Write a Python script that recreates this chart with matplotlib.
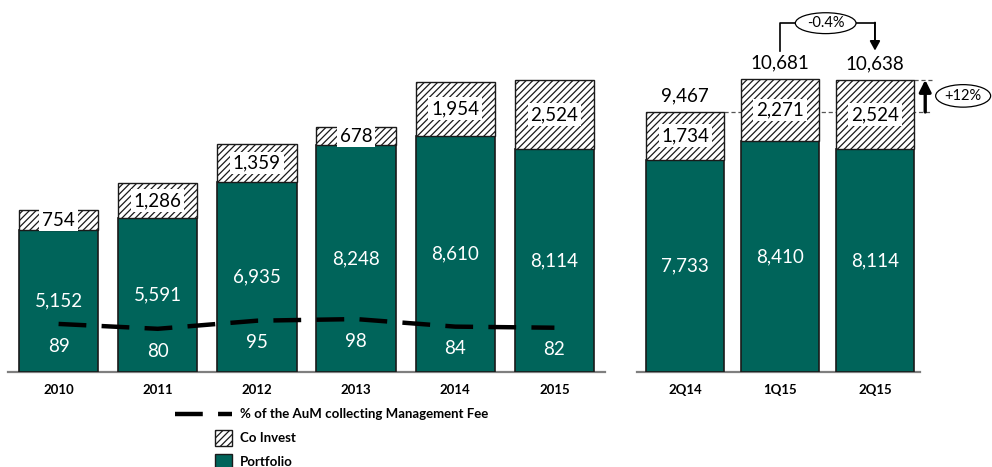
import matplotlib.pyplot as plt
import numpy as np
from matplotlib.lines import Line2D
from matplotlib.patches import Rectangle, Ellipse

plt.rcParams['font.family'] = ['Lato', 'DejaVu Sans']
plt.rcParams['hatch.color'] = '#505050'
plt.rcParams['hatch.linewidth'] = 0.9
plt.rcParams['lines.scale_dashes'] = False

# yearly AuM split
years = ['2010', '2011', '2012', '2013', '2014', '2015']
portfolio_y = [5152, 5591, 6935, 8248, 8610, 8114]
coinvest_y = [754, 1286, 1359, 678, 1954, 2524]
mgmt_fee_pct = [89, 80, 95, 98, 84, 82]

# quarterly AuM split
quarters = ['2Q14', '1Q15', '2Q15']
portfolio_q = [7733, 8410, 8114]
coinvest_q = [1734, 2271, 2524]
totals_q = [9467, 10681, 10638]

GREEN = '#00645a'
EDGE = '#1a1a1a'
HATCH = '/////'
W, H = 992, 467

fig = plt.figure(figsize=(W / 100, H / 100), dpi=100)


def px(x, y):
    # pixel position (from top-left) -> figure fraction
    return x / W, 1 - y / H


base = 372
ax_h = 329.6
ax1 = fig.add_axes([8 / W, (H - base) / H, 597 / W, ax_h / H])
ax2 = fig.add_axes([637 / W, (H - base) / H, 283 / W, ax_h / H])


def draw_bars(ax, labels, port, coinv, width):
    x = np.arange(len(labels))
    ax.bar(x, port, width, color=GREEN, edgecolor=EDGE, linewidth=1.2, zorder=3)
    ax.bar(x, coinv, width, bottom=port, color='white', edgecolor=EDGE,
           linewidth=1.0, hatch=HATCH, zorder=3)
    for xi, p, c in zip(x, port, coinv):
        ax.text(xi, p / 2, f'{p:,}', ha='center', va='center', color='white',
                fontsize=13.5, zorder=5)
        ax.text(xi, p + c / 2, f'{c:,}', ha='center', va='center', color='black',
                fontsize=13.5, zorder=5,
                bbox=dict(boxstyle='square,pad=0.15', fc='white', ec='none'))
    ax.set_ylim(0, 12000)
    ax.set_xticks(x)
    ax.set_xticklabels(labels, fontweight='bold', fontsize=9.5)
    ax.tick_params(axis='x', length=0, pad=9)
    ax.set_yticks([])
    for s in ['top', 'left', 'right']:
        ax.spines[s].set_visible(False)
    ax.spines['bottom'].set_color('#7f7f7f')
    ax.spines['bottom'].set_linewidth(1.6)
    return x


x1 = draw_bars(ax1, years, portfolio_y, coinvest_y, 0.8)
ax1.set_xlim(-0.51, 5.51)

# management fee line on its own scale
axp = ax1.twinx()
axp.set_ylim(0, ax_h / 0.54)
axp.axis('off')
axp.plot(x1, mgmt_fee_pct, color='black', linewidth=3.2, dashes=(20, 11), zorder=6)
for xi, v in zip(x1, mgmt_fee_pct):
    axp.annotate(str(v), (xi, v), xytext=(0, -16), textcoords='offset points',
                 ha='center', va='center', color='white', fontsize=13.5, zorder=6)

x2 = draw_bars(ax2, quarters, portfolio_q, coinvest_q, 0.82)
ax2.set_xlim(-0.51, 2.475)
for xi, t in zip(x2, totals_q):
    ax2.text(xi, t + 280, f'{t:,}', ha='center', va='bottom', fontsize=13.5)

# reference levels and growth markers
ax2.plot([x2[0] + 0.41, 2.6], [totals_q[0]] * 2, color='#555555', lw=0.9,
         ls=(0, (3, 2)), zorder=1, clip_on=False)
ax2.plot([x2[2] + 0.41, 2.6], [totals_q[2]] * 2, color='#555555', lw=0.9,
         ls=(0, (3, 2)), zorder=1, clip_on=False)
ax2.annotate('', xy=(2.53, totals_q[2]), xytext=(2.53, totals_q[0]),
             annotation_clip=False,
             arrowprops=dict(arrowstyle='-|>,head_width=0.35,head_length=0.7',
                             color='black', lw=2.4, shrinkA=0, shrinkB=0))
ax2.add_patch(Ellipse((2.93, (totals_q[0] + totals_q[2]) / 2), 0.58, 820,
                      fc='white', ec='black', lw=0.9, clip_on=False))
ax2.text(2.93, (totals_q[0] + totals_q[2]) / 2, '+12%', ha='center',
         va='center', fontsize=10.5, clip_on=False)

# quarter-on-quarter bracket
y_top = 12700
ax2.plot([x2[1], x2[1], x2[2]], [11700, y_top, y_top], color='black', lw=1.2,
         clip_on=False)
ax2.annotate('', xy=(x2[2], 11700), xytext=(x2[2], y_top + 20),
             annotation_clip=False,
             arrowprops=dict(arrowstyle='-|>,head_width=0.3,head_length=0.55',
                             color='black', lw=1.4, shrinkA=0, shrinkB=0))
ax2.add_patch(Ellipse((1.48, y_top), 0.64, 760, fc='white', ec='black',
                      lw=0.9, clip_on=False, zorder=4))
ax2.text(1.48, y_top, '-0.4%', ha='center', va='center', fontsize=10.5,
         clip_on=False, zorder=5)

# legend
fig.add_artist(Line2D([px(175, 0)[0], px(232, 0)[0]], [px(0, 414)[1]] * 2,
                      color='black', lw=3.2, dashes=(20, 11)))
for y, lbl, kw in [(430, 'Co Invest', dict(fc='white', hatch=HATCH)),
                   (454, 'Portfolio', dict(fc=GREEN))]:
    x0, y0 = px(215, y + 16)
    fig.add_artist(Rectangle((x0, y0), 17 / W, 16 / H, ec=EDGE, lw=1.0,
                             transform=fig.transFigure, **kw))
    fig.text(*px(240, y + 8), lbl, fontsize=9.5, fontweight='bold', va='center')
fig.text(*px(240, 414), '% of the AuM collecting Management Fee', fontsize=9.5,
         fontweight='bold', va='center')

fig.savefig('out.png', dpi=100)
